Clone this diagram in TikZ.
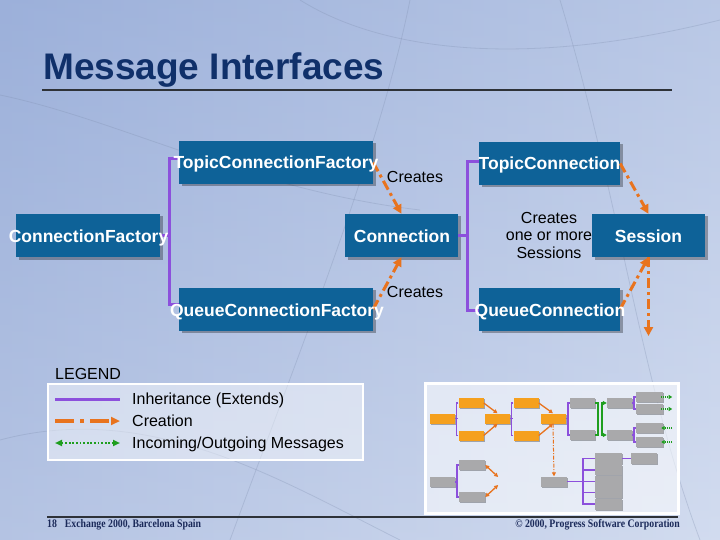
\documentclass[tikz,border=0pt]{standalone}
\usepackage{fontspec}
\setmainfont{Liberation Sans}
\newfontfamily\footfont[FakeStretch=0.85]{Liberation Serif}
\usetikzlibrary{arrows.meta,shadows}
\definecolor{bgL}{HTML}{9CB0DA}
\definecolor{bgM}{HTML}{D3DBEE}
\definecolor{bgR}{HTML}{C3D0EA}
\definecolor{boxblue}{HTML}{0E6298}
\definecolor{titlenavy}{HTML}{10306A}
\definecolor{inhpurple}{HTML}{8C50DC}
\definecolor{creorange}{HTML}{E8731E}
\definecolor{msggreen}{HTML}{1E9E1E}
\definecolor{minorange}{HTML}{F5A01E}
\definecolor{mingray}{HTML}{A9A9AB}
\definecolor{rulegray}{HTML}{2E3238}
\definecolor{bgline}{HTML}{7F8FAF}
\definecolor{footnavy}{HTML}{1B2A5A}
\begin{document}
\begin{tikzpicture}[x=1pt,y=-1pt,
  bigbox/.style={fill=boxblue, minimum width=#1, minimum height=43, inner sep=0pt,
    drop shadow={shadow xshift=2.5pt, shadow yshift=-2.5pt, fill=black, opacity=0.3}},
  lbl/.style={text=white, font=\fontsize{17.5}{20}\selectfont\bfseries, inner sep=0pt, anchor=base},
  txt/.style={text=black, font=\fontsize{16}{17.5}\selectfont, inner sep=0pt},
  inh/.style={draw=inhpurple, line width=3pt},
  cre/.style={draw=creorange, line width=3pt, dash pattern=on 10pt off 4pt on 3pt off 4pt,
    -{Triangle[length=9pt,width=9pt]}},
  ob/.style={fill=minorange, minimum width=25, minimum height=10, inner sep=0pt,
    drop shadow={shadow xshift=1.2pt, shadow yshift=-1.2pt, fill=black, opacity=0.3}},
  gb/.style={fill=mingray, minimum width=25, minimum height=10, inner sep=0pt,
    drop shadow={shadow xshift=1.2pt, shadow yshift=-1.2pt, fill=black, opacity=0.3}},
  minp/.style={draw=inhpurple, line width=1.5pt},
  mino/.style={draw=creorange, line width=1.3pt, -{Triangle[length=4pt,width=4pt]}},
  minob/.style={draw=creorange, line width=1.3pt, {Triangle[length=4pt,width=4pt]}-{Triangle[length=4pt,width=4pt]}},
  minod/.style={draw=creorange, line width=1pt, dash pattern=on 4pt off 1.5pt on 1pt off 1.5pt, -{Triangle[length=4pt,width=4pt]}},
  ming/.style={draw=msggreen, line width=1.3pt, dash pattern=on 1pt off 1pt, -{Triangle[length=3.5pt,width=4pt]}},
  mingl/.style={draw=msggreen, line width=1.5pt},
  mingb/.style={draw=msggreen, line width=1.5pt, {Triangle[length=4pt,width=4pt]}-{Triangle[length=4pt,width=4pt]}},
  decor/.style={draw=bgline, line width=0.8pt, opacity=0.3},
  foot/.style={inner sep=0pt, text=footnavy, font=\footfont\bfseries\fontsize{11.5}{13}\selectfont}
]
\useasboundingbox (0,0) rectangle (720,540);
% background
\shade[left color=bgL, middle color=bgM, right color=bgR] (0,0) rectangle (720,540);
\shade[top color=bgL, bottom color=white, opacity=0.25] (0,0) rectangle (720,540);
\draw[decor] (0,95) .. controls (120,120) and (250,190) .. (420,210);
\draw[decor] (410,0) .. controls (380,150) and (300,350) .. (230,540);
\draw[decor] (560,0) .. controls (620,200) and (640,380) .. (700,540);
\draw[decor] (0,440) .. controls (150,400) and (280,480) .. (400,540);
\draw[decor] (300,0) .. controls (380,50) and (520,70) .. (720,20);

% title and rules
\node[anchor=base west, inner sep=0pt, text=titlenavy, font=\fontsize{37}{40}\selectfont\bfseries] (title) at (43,80) {Message Interfaces};
\coordinate (tr1) at (42,90); \coordinate (tr2) at (672,90);
\draw[rulegray, line width=2pt] (tr1) -- (tr2);
\coordinate (fr1) at (47,517); \coordinate (fr2) at (678,517);

% main boxes
\node[bigbox=194] (tcf) at (276,162.5) {};
\node[bigbox=144] (cf) at (88,235.5) {};
\node[bigbox=113] (conn) at (401.5,235.5) {};
\node[bigbox=194] (qcf) at (276,309) {};
\node[bigbox=141] (tc) at (549.5,163.5) {};
\node[bigbox=113] (sess) at (648.5,235.5) {};
\node[bigbox=141] (qc) at (549.5,309) {};

% inheritance
\draw[inh] ([yshift=3.5pt]tcf.west) -- ++(-9,0) |- ([yshift=5pt]qcf.west);
\draw[inh] (cf.east) -- ++(10,0);
\draw[inh] ([yshift=1.5pt]tc.west) -- ++(-11,0) |- ([yshift=-1pt]qc.west);
\draw[inh] (conn.east) -- ++(10,0);

% creation
\draw[cre] (tcf.east) -- (conn.north);
\draw[cre] (qcf.east) -- (conn.south);
\draw[cre] (tc.east) -- (sess.north);
\draw[cre] (qc.east) -- (sess.south);
\coordinate (sdown) at (648.5,336);
\draw[cre] (sess.south) -- (sdown);

% labels
\node[lbl] (tcft) at (276,169) {TopicConnectionFactory};
\node[lbl] (cft) at (88.5,242) {ConnectionFactory};
\node[lbl] (connt) at (402,242) {Connection};
\node[lbl] (qcft) at (277,316) {QueueConnectionFactory};
\node[lbl] (tct) at (549.5,170) {TopicConnection};
\node[lbl] (sesst) at (648.5,242) {Session};
\node[lbl] (qct) at (550,316) {QueueConnection};
\node[txt, anchor=base] (cr1) at (415,183) {Creates};
\node[txt, anchor=base] (cr2) at (415,297) {Creates};
\node[txt, align=center] (cr3) at (549,235) {Creates\\one or more\\Sessions};

% legend
\node[txt, anchor=base west] (legt) at (55,379) {LEGEND};
\node[draw=white, line width=2pt, fill=white, fill opacity=0.45, minimum width=315, minimum height=76, anchor=north west, inner sep=0pt] (legbox) at (47,383) {};
\coordinate (l1a) at (55,399); \coordinate (l1b) at (120,399);
\coordinate (l2a) at (55,421); \coordinate (l2b) at (120,421);
\coordinate (l3a) at (55,443); \coordinate (l3b) at (120,443);
\draw[inh] (l1a) -- (l1b);
\draw[draw=creorange, line width=3.5pt, dash pattern=on 19pt off 6pt on 4pt off 6pt, -{Triangle[length=9pt,width=8pt]}] (l2a) -- (l2b);
\draw[draw=msggreen, line width=2pt, dash pattern=on 1.8pt off 1.8pt, {Triangle[length=7pt,width=6pt]}-{Triangle[length=7pt,width=6pt]}] (l3a) -- (l3b);
\node[txt, anchor=base west] (l1t) at (132,404) {Inheritance (Extends)};
\node[txt, anchor=base west] (l2t) at (132,426) {Creation};
\node[txt, anchor=base west] (l3t) at (132,448) {Incoming/Outgoing Messages};

% thumbnail
\node[draw=white, line width=2.5pt, fill=white, fill opacity=0.55, minimum width=253, minimum height=130, anchor=north west, inner sep=0pt] (thumb) at (424,382) {};
\node[ob] (ta) at (442.5,418.5) {};
\node[ob] (tb1) at (471,403) {};
\node[ob] (tb2) at (471,435.5) {};
\node[ob] (tc0) at (497.5,418.5) {};
\node[ob] (td1) at (526,403) {};
\node[ob] (td2) at (526,435.5) {};
\node[ob] (te) at (553,418.5) {};
\node[gb] (tf1) at (582.5,403) {};
\node[gb] (tf2) at (582.5,435) {};
\node[gb] (tg1) at (619.5,403) {};
\node[gb] (tg2) at (619.5,435) {};
\node[gb, minimum width=27] (th1) at (649.5,397) {};
\node[gb, minimum width=27] (th2) at (649.5,409) {};
\node[gb, minimum width=27] (th3) at (649.5,428) {};
\node[gb, minimum width=27] (th4) at (649.5,442) {};
\node[gb] (ti) at (442.5,482) {};
\node[gb, minimum width=26] (tj1) at (472,465) {};
\node[gb, minimum width=26] (tj2) at (472,497) {};
\node[gb, minimum width=26] (tk) at (554,481.5) {};
\node[gb, minimum width=27, minimum height=11] (tl1) at (608.5,458.5) {};
\node[gb, minimum width=27, minimum height=11] (tl2) at (608.5,469.9) {};
\node[gb, minimum width=27, minimum height=11] (tl3) at (608.5,481.3) {};
\node[gb, minimum width=27, minimum height=11] (tl4) at (608.5,492.7) {};
\node[gb, minimum width=27, minimum height=11] (tl5) at (608.5,504.1) {};
\node[gb, minimum width=26, minimum height=11] (tm) at (644,458.5) {};

\draw[minp] (ta.east) -- ++(2.5,0);
\draw[minp] (tb1.west) -- ++(-2,0) |- (tb2.west);
\draw[mino] (tb1.east) -- (tc0.north);
\draw[mino] (tb2.east) -- (tc0.south);
\draw[minp] (tc0.east) -- ++(2.5,0);
\draw[minp] (td1.west) -- ++(-2,0) |- (td2.west);
\draw[mino] (td1.east) -- (te.north);
\draw[mino] (td2.east) -- (te.south);
\draw[minp] (te.east) -- ++(3,0);
\draw[minp] (tf1.west) -- ++(-2,0) |- (tf2.west);
\draw[mingl] (tf1.east) -- ++(3,0) |- (tf2.east);
\draw[mingb] (tg1.west) -- ++(-5,0) |- (tg2.west);
\draw[minp] (tg1.east) -- ++(2,0);
\draw[minp] (th1.west) -- ++(-2,0) |- (th2.west);
\draw[minp] (tg2.east) -- ++(2,0);
\draw[minp] (th3.west) -- ++(-2,0) |- (th4.west);
\draw[ming] ([xshift=-2pt]th1.east) -- ++(11,0);
\draw[ming] ([xshift=-2pt]th2.east) -- ++(11,0);
\draw[ming] ([xshift=9pt]th3.east) -- ++(-11,0);
\draw[ming] ([xshift=9pt]th4.east) -- ++(-11,0);
\draw[minp] (ti.east) -- ++(2,0);
\draw[minp] (tj1.west) -- ++(-2,0) |- (tj2.west);
\draw[minob] (tj1.east) -- ++(13,12);
\draw[minob] (tj2.east) -- ++(13,-12);
\draw[minod] (te.south) -- (tk.north);
\draw[minp] (tk.east) -- ++(16,0);
\draw[minp] (tl1.west) -- ++(-12,0) |- (tl5.west);
\draw[minp] (tl2.west) -- ++(-12,0);
\draw[minp] (tl3.west) -- ++(-12,0);
\draw[minp] (tl4.west) -- ++(-12,0);
\draw[minp] (tl1.east) -- (tm.west);

% footer
\draw[rulegray, line width=2.5pt] (fr1) -- (fr2);
\node[foot, anchor=base west] (foot1) at (47,527) {18\hspace{8pt}Exchange 2000, Barcelona Spain};
\node[foot, anchor=base east] (foot2) at (680,527) {© 2000, Progress Software Corporation};
\end{tikzpicture}
\end{document}
